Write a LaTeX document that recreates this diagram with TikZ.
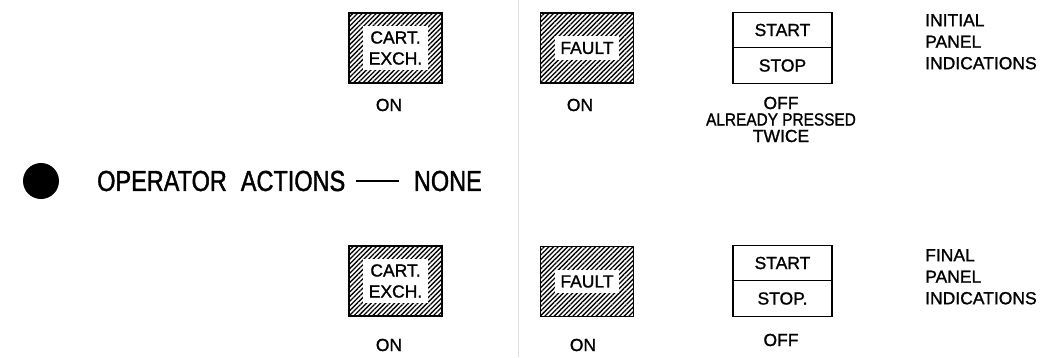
\documentclass[tikz,border=0pt]{standalone}
\usepackage{fontspec}
\setmainfont{Liberation Sans}
\newfontfamily\platefont[FakeBold=1.2]{Liberation Sans}
\newfontfamily\platenarrow[FakeStretch=0.88, FakeBold=1.2]{Liberation Sans}
\newfontfamily\narrowfont[FakeStretch=0.81, FakeBold=1.4]{Liberation Sans}
\usetikzlibrary{patterns.meta,positioning}
\newcommand{\lbl}{\platefont\fontsize{17.5}{21}\selectfont}
\newcommand{\stlbl}{\platefont\fontsize{17.5}{16.5}\selectfont}
\newcommand{\bigtxt}{\narrowfont\fontsize{29}{32}\selectfont}

\begin{document}
\begin{tikzpicture}[x=1pt, y=-1pt,
        lamp/.style={rectangle, draw, line width=1.4pt, minimum width=93pt, minimum height=70pt, pattern={Lines[angle=45, distance=3.3pt, line width=1.3pt]}},
        lamptext/.style={fill=white, inner sep=5.5pt, align=center, font=\lbl},
        keybox/.style={rectangle, draw, line width=1.3pt, outer sep=0pt, minimum width=99pt, minimum height=35.5pt, font=\lbl},
        lampstate/.style={align=center, inner sep=0pt, font=\stlbl},
        paneltext/.style={anchor=north west, align=left, inner sep=0pt, font=\platefont\fontsize{17.5}{21.5}\selectfont}]

        \useasboundingbox (0,0) rectangle (1044,357);

        % faint fold of the sheet
        \coordinate (foldtop) at (518,0);
        \coordinate (foldbot) at (518,357);
        \draw[black!12, line width=0.8pt] (foldtop) -- (foldbot);

        % Initial panel
        \node[lamp] (cartA) at (395.5,48) {};
        \node[lamptext] (cartAtxt) at (cartA) {CART.\\EXCH.};
        \node[lamp] (faultA) at (587,48) {};
        \node[lamptext] (faultAtxt) at (faultA) {FAULT};
        \node[keybox] (startA) at (782.5,30) {START};
        \node[keybox, below=0pt of startA] (stopA) {STOP};

        \node[lampstate] (cartAon) at (389,105) {ON};
        \node[lampstate] (faultAon) at (580,105) {ON};
        \node[lampstate] (stopAoff) at (781,119.5) {OFF\\{\platenarrow ALREADY PRESSED}\\TWICE};
        \node[paneltext] (initial) at (925,14) {INITIAL\\PANEL\\INDICATIONS};

        % Operator actions
        \node[circle, fill, minimum size=36pt, inner sep=0pt] (dot) at (41,181) {};
        \node[anchor=west, inner sep=0pt, font=\bigtxt] (actions) at (97,181) {OPERATOR\hspace{14pt}ACTIONS};
        \node[anchor=east, inner sep=0pt, font=\bigtxt] (none) at (482,181) {NONE};
        \draw[line width=2pt, shorten <=11pt, shorten >=15pt] (actions.east) -- (none.west);

        % Final panel
        \node[lamp] (cartB) at (395.5,281) {};
        \node[lamptext] (cartBtxt) at (cartB) {CART.\\EXCH.};
        \node[lamp] (faultB) at (587,281.5) {};
        \node[lamptext] (faultBtxt) at (faultB) {FAULT};
        \node[keybox] (startB) at (782.5,263) {START};
        \node[keybox, below=0pt of startB] (stopB) {STOP.};

        \node[lampstate] (cartBon) at (389,345) {ON};
        \node[lampstate] (faultBon) at (583,345) {ON};
        \node[lampstate] (stopBoff) at (781,340) {OFF};
        \node[paneltext] (final) at (925,249) {FINAL\\PANEL\\INDICATIONS};

    \end{tikzpicture}
\end{document}
